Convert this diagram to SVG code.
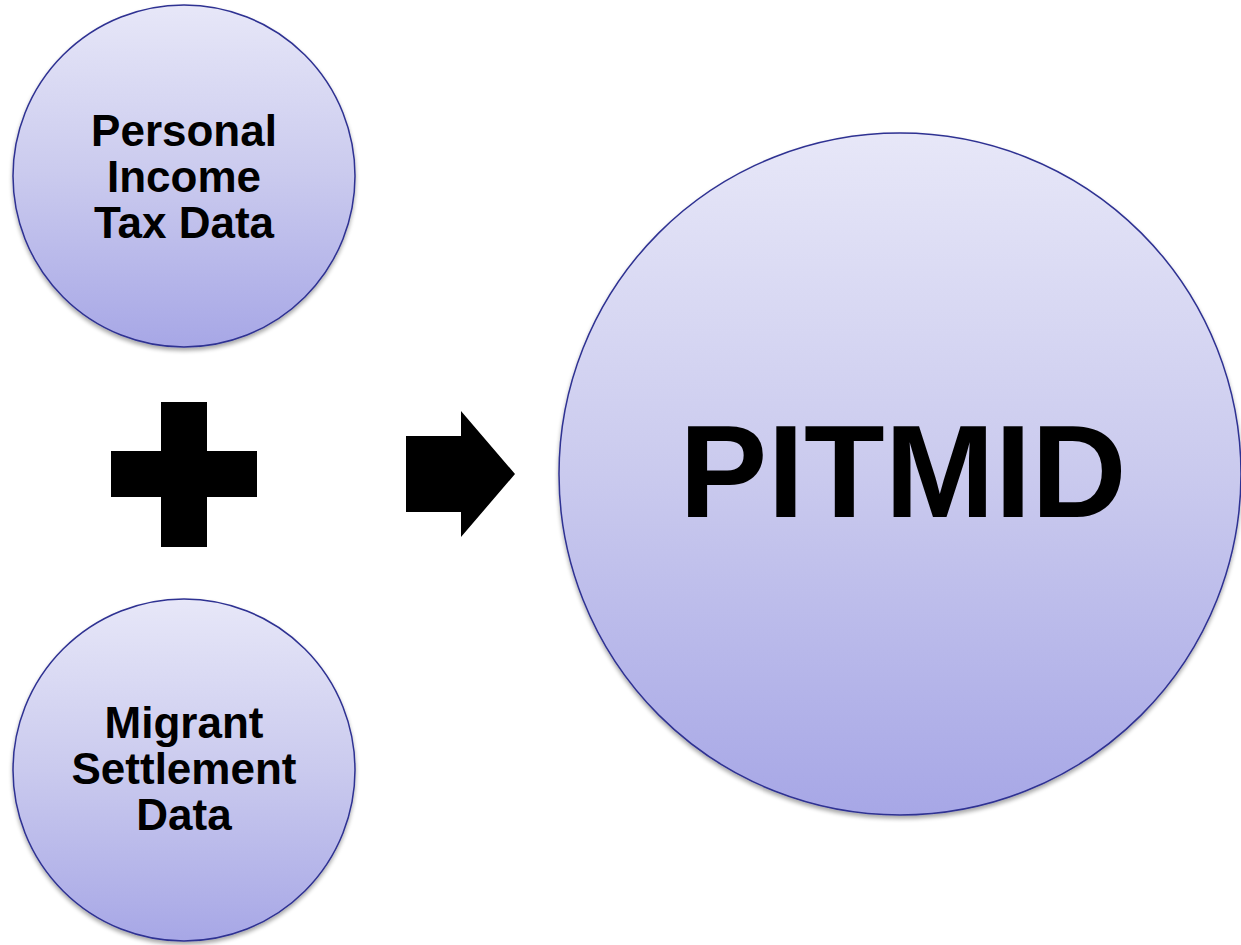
<svg xmlns="http://www.w3.org/2000/svg" width="1241" height="945" viewBox="0 0 1241 945">
<defs>
<linearGradient id="g" x1="0" y1="0" x2="0" y2="1">
<stop offset="0" stop-color="#e7e7f8"/>
<stop offset="0.5" stop-color="#cacaee"/>
<stop offset="1" stop-color="#a7a7e6"/>
</linearGradient>
<filter id="sh" x="-10%" y="-10%" width="120%" height="125%">
<feGaussianBlur in="SourceAlpha" stdDeviation="2"/>
<feOffset dx="0" dy="3" result="b"/>
<feComponentTransfer><feFuncA type="linear" slope="0.35"/></feComponentTransfer>
<feMerge><feMergeNode/><feMergeNode in="SourceGraphic"/></feMerge>
</filter>
</defs>
<style>
.c{fill:url(#g);stroke:#2e3192;stroke-width:1.5;filter:url(#sh)}
.t{font-family:"Liberation Sans",Arial,sans-serif;font-weight:bold;fill:#000;text-anchor:middle}
.s{font-size:44px}
.b{font-size:132px}
</style>
<rect width="1241" height="945" fill="#fff"/>
<g id="pit">
<circle class="c" cx="184" cy="176" r="171"/>
<text class="t s" x="184" y="146">Personal</text>
<text class="t s" x="184" y="192">Income</text>
<text class="t s" x="184" y="238">Tax Data</text>
</g>
<g id="msd">
<circle class="c" cx="184" cy="770" r="171"/>
<text class="t s" x="184" y="738">Migrant</text>
<text class="t s" x="184" y="784">Settlement</text>
<text class="t s" x="184" y="830">Data</text>
</g>
<g id="pitmid">
<circle class="c" cx="900" cy="474" r="341"/>
<text class="t b" x="903" y="517">PITMID</text>
</g>
<g id="connectors">
<path d="M161 402H207V451H257V497H207V547H161V497H111V451H161Z" fill="#000"/>
<path d="M406 436H461V411L515 474L461 537V512H406Z" fill="#000"/>
</g>
</svg>
